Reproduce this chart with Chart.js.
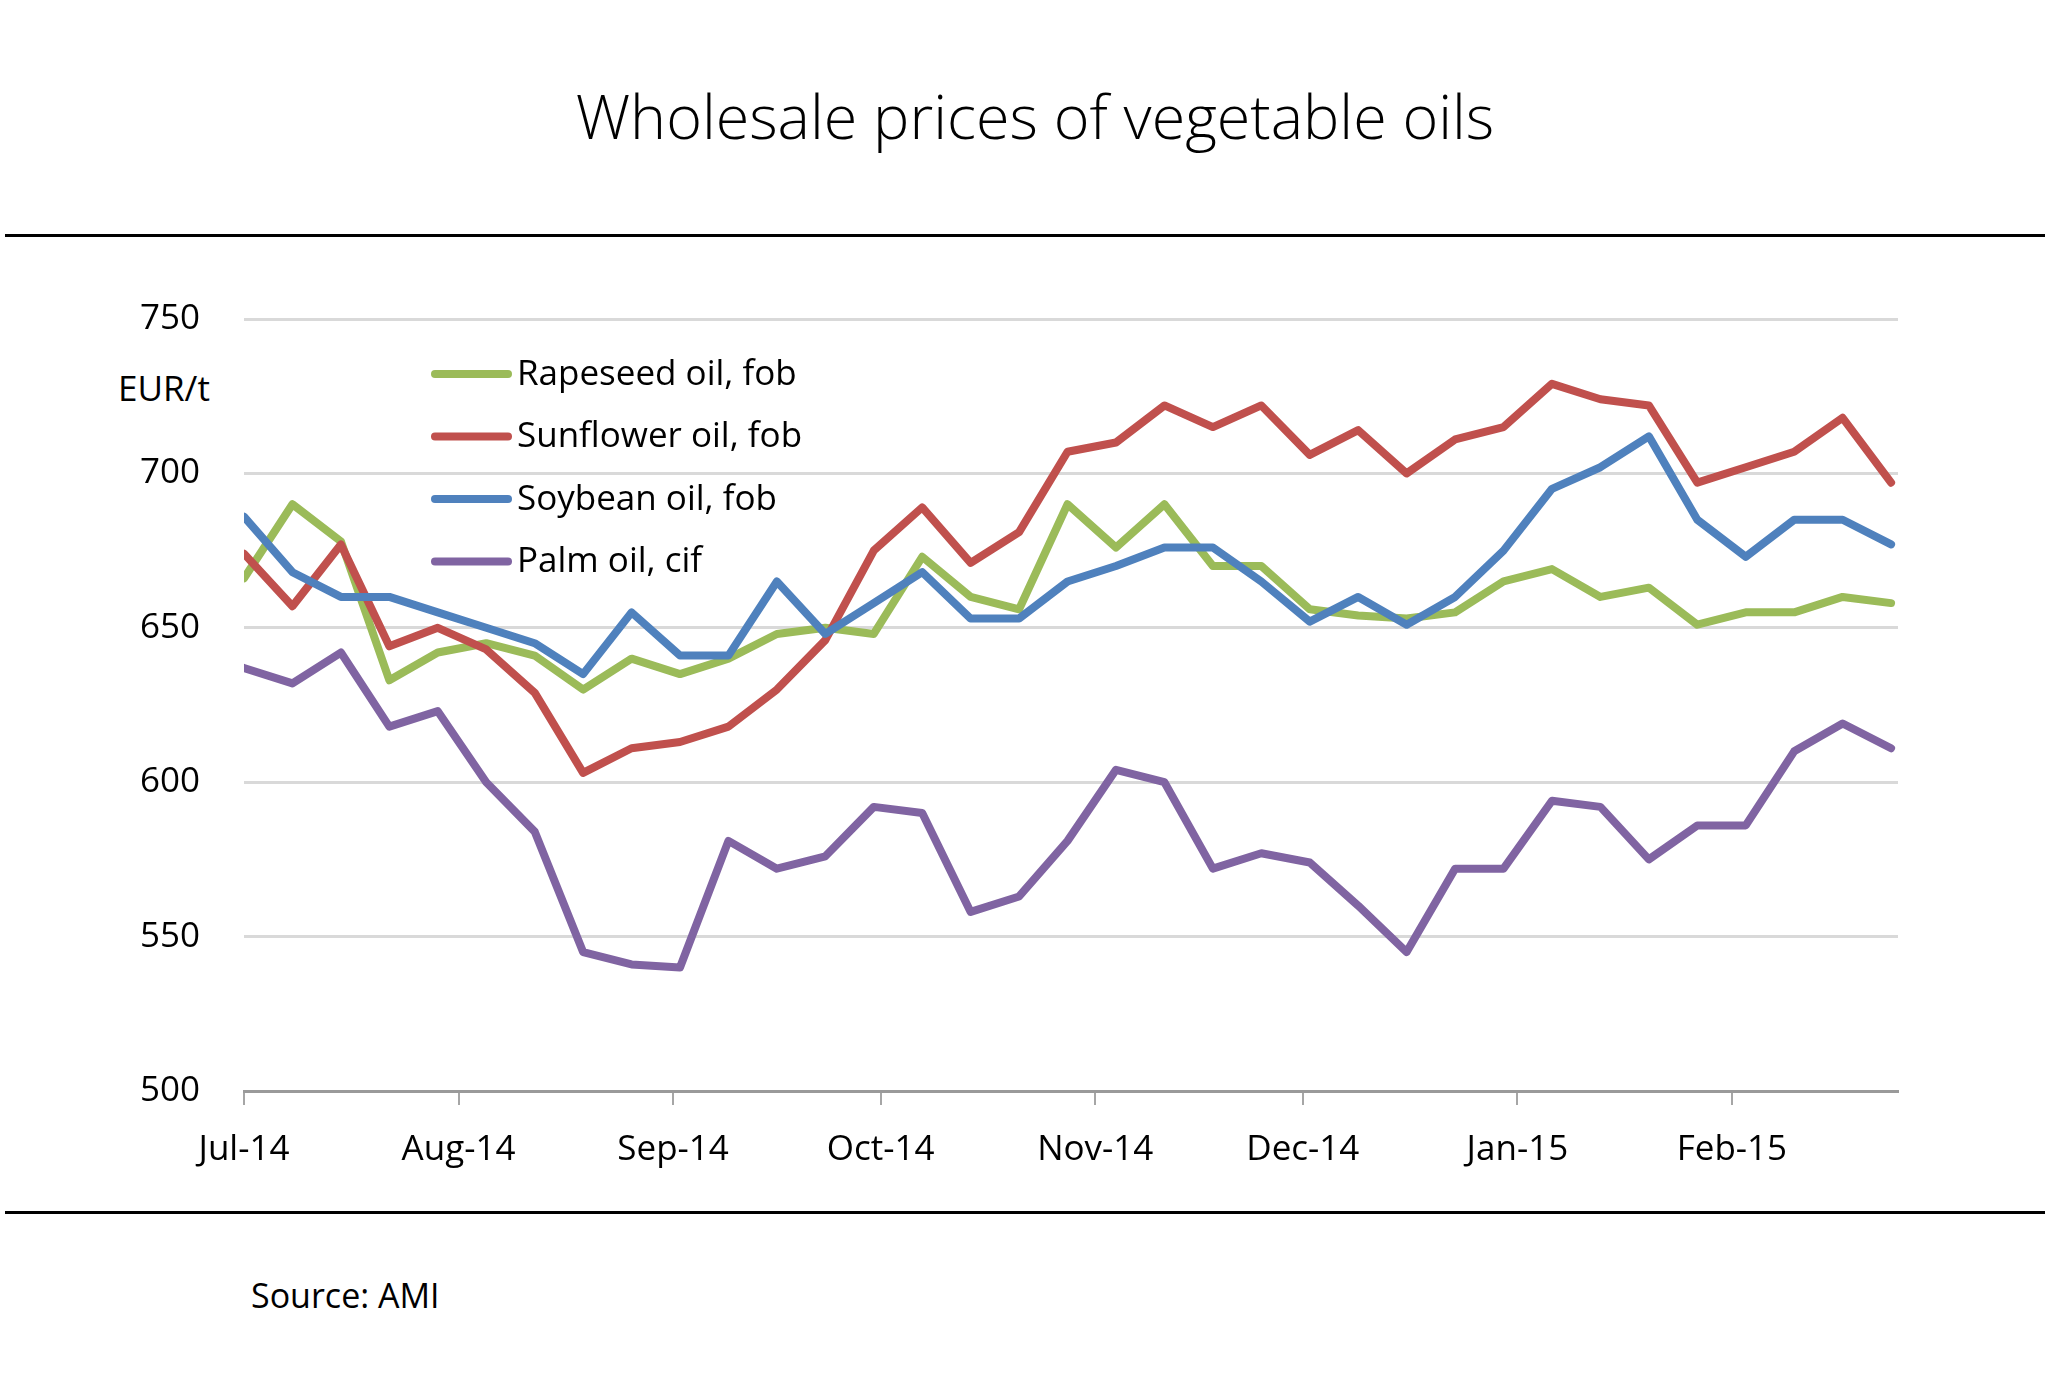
<!DOCTYPE html>
<html>
<head>
<meta charset="utf-8">
<script src="https://cdn.jsdelivr.net/npm/chart.js@4.4.1/dist/chart.umd.min.js"></script>
<style>
  html, body { margin: 0; padding: 0; background: #fff; }
  body { width: 2048px; height: 1400px; position: relative; overflow: hidden; font-family: "Open Sans", sans-serif; color: #000; }
  #chart { position: absolute; left: 0; top: 0; }
  .txt { position: absolute; line-height: 1; white-space: nowrap; }
  #title { left: 0; width: 2070px; top: 85px; text-align: center; font-size: 61px; font-weight: 300; }
  #unit { left: 118px; top: 370px; font-size: 35px; }
  #source { left: 251px; top: 1278px; font-size: 34px; }
  .rule { position: absolute; left: 5px; width: 2040px; height: 3px; background: #000; }
</style>
</head>
<body>
<div id="title" class="txt">Wholesale prices of vegetable oils</div>
<div class="rule" style="top:234px"></div>
<div class="rule" style="top:1211px"></div>
<div id="unit" class="txt">EUR/t</div>
<div id="source" class="txt">Source: AMI</div>
<canvas id="chart" width="2048" height="1400"></canvas>
<script>
// Weekly quotations (dates) and prices in EUR/t
const dates = [
  "2014-07-01", "2014-07-08", "2014-07-15", "2014-07-22", "2014-07-29",
  "2014-08-05", "2014-08-12", "2014-08-19", "2014-08-26",
  "2014-09-02", "2014-09-09", "2014-09-16", "2014-09-23", "2014-09-30",
  "2014-10-07", "2014-10-14", "2014-10-21", "2014-10-28",
  "2014-11-04", "2014-11-11", "2014-11-18", "2014-11-25",
  "2014-12-02", "2014-12-09", "2014-12-16", "2014-12-23", "2014-12-30",
  "2015-01-06", "2015-01-13", "2015-01-20", "2015-01-27",
  "2015-02-03", "2015-02-10", "2015-02-17", "2015-02-24"
];
const rapeseed = [666, 690, 678, 633, 642, 645, 641, 630, 640, 635, 640, 648, 650, 648, 673, 660, 656, 690, 676, 690,
  670, 670, 656, 654, 653, 655, 665, 669, 660, 663, 651, 655, 655, 660, 658];
const sunflower = [674, 657, 677, 644, 650, 643, 629, 603, 611, 613, 618, 630, 646, 675, 689, 671, 681, 707, 710, 722,
  715, 722, 706, 714, 700, 711, 715, 729, 724, 722, 697, 702, 707, 718, 697];
const soybean = [686, 668, 660, 660, 655, 650, 645, 635, 655, 641, 641, 665, 648, 658, 668, 653, 653, 665, 670, 676,
  676, 665, 652, 660, 651, 660, 675, 695, 702, 712, 685, 673, 685, 685, 677];
const palm = [637, 632, 642, 618, 623, 600, 584, 545, 541, 540, 581, 572, 576, 592, 590, 558, 563, 581, 604, 600,
  572, 577, 574, 560, 545, 572, 572, 594, 592, 575, 586, 586, 610, 619, 611];

const monthStarts = ["2014-07-01", "2014-08-01", "2014-09-01", "2014-10-01", "2014-11-01", "2014-12-01", "2015-01-01", "2015-02-01"];
const monthLabels = ["Jul-14", "Aug-14", "Sep-14", "Oct-14", "Nov-14", "Dec-14", "Jan-15", "Feb-15"];
const yTicks = [500, 550, 600, 650, 700, 750];

// days counted from the start of the axis
const start = Date.parse(dates[0]);
const dayOf = (d) => Math.round((Date.parse(d) - start) / 86400000);
const monthDays = monthStarts.map(dayOf);
const toPoints = (vals) => vals.map((v, i) => ({ x: dayOf(dates[i]), y: v }));

const FONT = "Open Sans";

function series(label, vals, color, order) {
  return {
    label: label,
    data: toPoints(vals),
    borderColor: color,
    backgroundColor: color,
    borderWidth: 8,
    borderJoinStyle: "round",
    borderCapStyle: "round",
    pointRadius: 0,
    fill: false,
    tension: 0,
    order: order,
  };
}

// legend inside the plot, drawn from the datasets
const insideLegend = {
  id: "insideLegend",
  afterDatasetsDraw(chart) {
    const ctx = chart.ctx;
    ctx.save();
    ctx.font = "35px '" + FONT + "'";
    ctx.textBaseline = "middle";
    ctx.fillStyle = "#000";
    chart.data.datasets.forEach((ds, i) => {
      const y = 374 + i * 62.5;
      ctx.strokeStyle = ds.borderColor;
      ctx.lineWidth = 8;
      ctx.lineCap = "round";
      ctx.beginPath();
      ctx.moveTo(435, y);
      ctx.lineTo(508, y);
      ctx.stroke();
      ctx.fillText(ds.label, 517, y + 1);
    });
    ctx.restore();
  },
};

new Chart(document.getElementById("chart"), {
  type: "line",
  data: {
    datasets: [
      series("Rapeseed oil, fob", rapeseed, "#9BBB59", 4),
      series("Sunflower oil, fob", sunflower, "#C0504D", 3),
      series("Soybean oil, fob", soybean, "#4F81BD", 2),
      series("Palm oil, cif", palm, "#8064A2", 1),
    ],
  },
  options: {
    responsive: false,
    animation: false,
    devicePixelRatio: 1,
    layout: { padding: { left: 0, right: 150, top: 319, bottom: 209 } },
    plugins: {
      legend: { display: false },
      tooltip: { enabled: false },
    },
    scales: {
      x: {
        type: "linear",
        min: 0,
        max: 239,
        afterBuildTicks: (scale) => {
          scale.ticks = monthDays.map((v) => ({ value: v }));
        },
        afterFit: (scale) => { scale.height = 100; },
        grid: { drawOnChartArea: false, drawTicks: true, tickLength: 14, color: "#a6a6a6", lineWidth: 2 },
        border: { display: true, color: "#9a9a9a", width: 3 },
        ticks: {
          autoSkip: false,
          maxRotation: 0,
          padding: 24,
          color: "#000",
          font: { family: FONT, size: 35 },
          callback: (value) => monthLabels[monthDays.indexOf(value)],
        },
      },
      y: {
        min: 500,
        max: 750,
        afterBuildTicks: (scale) => {
          scale.ticks = yTicks.map((v) => ({ value: v }));
        },
        afterFit: (scale) => { scale.width = 244; },
        grid: { color: "#d9d9d9", lineWidth: 3, drawTicks: false },
        border: { display: false },
        ticks: {
          padding: 44,
          color: "#000",
          font: { family: FONT, size: 35 },
        },
      },
    },
  },
  plugins: [insideLegend],
});
</script>
</body>
</html>
